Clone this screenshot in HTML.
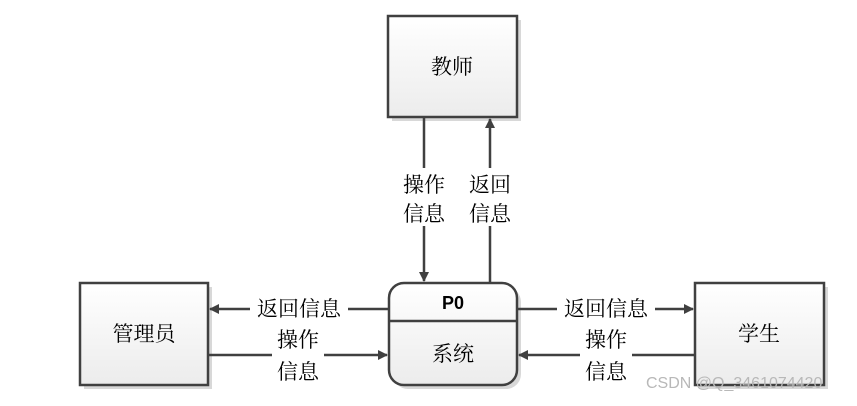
<!DOCTYPE html>
<html><head><meta charset="utf-8"><style>
body{margin:0;background:#fff;}
svg text{font-family:"Liberation Serif","Noto Serif CJK SC",serif;font-size:21px;fill:#000;}
</style></head><body>
<svg width="857" height="401" xmlns="http://www.w3.org/2000/svg">
<defs>
<linearGradient id="g" x1="0" y1="0" x2="0" y2="1"><stop offset="0" stop-color="#ffffff"/><stop offset="1" stop-color="#ececec"/></linearGradient>
<marker id="a" markerWidth="10" markerHeight="10" refX="9" refY="5" orient="auto" markerUnits="userSpaceOnUse"><path d="M0,0 L10,5 L0,10 z" fill="#404040"/></marker>
</defs>
<g fill="#d8d8d8">
<rect x="392" y="20" width="129" height="101"/>
<rect x="84" y="287" width="128" height="102"/>
<rect x="699" y="287" width="129" height="102"/>
<rect x="393" y="287" width="128" height="102" rx="15"/>
</g>
<g stroke="#404040" stroke-width="2.5" fill="url(#g)">
<rect x="388" y="16" width="129" height="101"/>
<rect x="80" y="283" width="128" height="102"/>
<rect x="695" y="283" width="129" height="102"/>
<rect x="389" y="283" width="128" height="102" rx="15"/>
<line x1="389" y1="321" x2="517" y2="321"/>
</g>
<g stroke="#404040" stroke-width="2.5" fill="none">
<line x1="424" y1="117" x2="424" y2="281" marker-end="url(#a)"/>
<line x1="490" y1="283" x2="490" y2="119" marker-end="url(#a)"/>
<line x1="389" y1="309" x2="210" y2="309" marker-end="url(#a)"/>
<line x1="208" y1="355" x2="387" y2="355" marker-end="url(#a)"/>
<line x1="517" y1="309" x2="693" y2="309" marker-end="url(#a)"/>
<line x1="695" y1="355" x2="519" y2="355" marker-end="url(#a)"/>
</g>
<g fill="#fff">
<rect x="400" y="168" width="48" height="58"/>
<rect x="466" y="168" width="48" height="58"/>
<rect x="250" y="295" width="98" height="28"/>
<rect x="272" y="326" width="52" height="58"/>
<rect x="557" y="295" width="98" height="28"/>
<rect x="580" y="326" width="52" height="58"/>
</g>
<g text-anchor="middle">
<text x="452" y="74">教师</text>
<text x="144" y="341">管理员</text>
<text x="759" y="341">学生</text>
<text x="453" y="361">系统</text>
<text x="453" y="309" style="font-family:'Liberation Sans',sans-serif;font-weight:bold;font-size:18px">P0</text>
<text x="424" y="192">操作</text><text x="424" y="221">信息</text>
<text x="490" y="192">返回</text><text x="490" y="221">信息</text>
<text x="299" y="316">返回信息</text>
<text x="298" y="347">操作</text><text x="298" y="379">信息</text>
<text x="606" y="316">返回信息</text>
<text x="606" y="347">操作</text><text x="606" y="379">信息</text>
</g>
<text x="646" y="388" style="font-family:'Liberation Sans',sans-serif;font-size:16px;fill:#b8b8b8">CSDN @Q_3461074420</text>
</svg>
</body></html>
